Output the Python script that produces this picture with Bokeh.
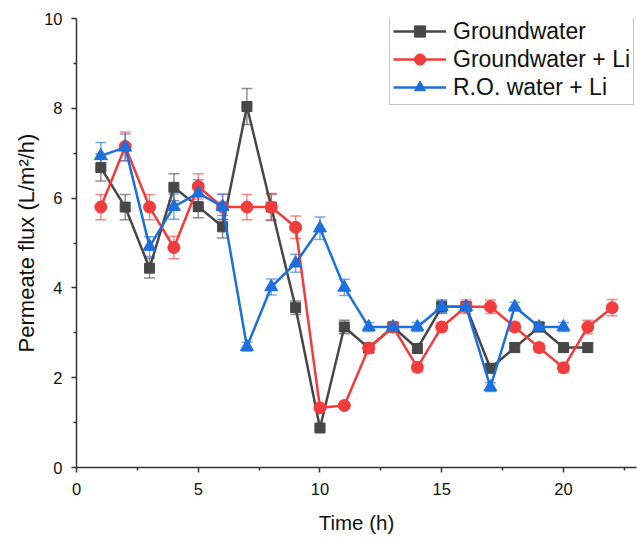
from bokeh.plotting import figure
from bokeh.models import ColumnDataSource, Whisker, TeeHead, Legend, LegendItem, Range1d, FixedTicker
from bokeh.embed import file_html
from bokeh.resources import INLINE

# ---- data ----
time_gw = list(range(1, 22))
flux_gw = [6.68, 5.80, 4.44, 6.24, 5.81, 5.36, 8.04, 5.80, 3.56, 0.88, 3.13,
           2.66, 3.13, 2.65, 3.58, 3.58, 2.21, 2.67, 3.13, 2.67, 2.67]
err_gw = [0.30, 0.28, 0.22, 0.30, 0.25, 0.25, 0.40, 0.30, 0.15, 0.05, 0.15,
          0.10, 0.10, 0.10, 0.15, 0.10, 0.10, 0.10, 0.10, 0.10, 0.10]

time_gwli = list(range(1, 23))
flux_gwli = [5.80, 7.15, 5.80, 4.90, 6.26, 5.80, 5.80, 5.80, 5.35, 1.33, 1.38,
             2.66, 3.13, 2.23, 3.13, 3.58, 3.58, 3.13, 2.67, 2.22, 3.13, 3.56]
err_gwli = [0.28, 0.32, 0.28, 0.25, 0.28, 0.28, 0.28, 0.28, 0.25, 0.05, 0.05,
            0.10, 0.10, 0.10, 0.10, 0.15, 0.15, 0.10, 0.10, 0.10, 0.15, 0.18]

time_ro = list(range(1, 21))
flux_ro = [6.94, 7.13, 4.92, 5.81, 6.11, 5.81, 2.69, 4.02, 4.55, 5.33, 4.01,
           3.13, 3.13, 3.13, 3.58, 3.58, 1.79, 3.58, 3.13, 3.13]
err_ro = [0.30, 0.30, 0.22, 0.28, 0.30, 0.28, 0.10, 0.18, 0.20, 0.25, 0.18,
          0.10, 0.10, 0.10, 0.12, 0.10, 0.10, 0.10, 0.10, 0.10]

series_names = ["Groundwater", "Groundwater + Li", "R.O. water + Li"]
x_ticks = [0, 5, 10, 15, 20]
y_ticks = [0, 2, 4, 6, 8, 10]

colors = ["#474747", "#f23c3c", "#1c6fdc"]
markers = ["square", "circle", "triangle"]
msizes = [10, 12, 13]

p = figure(width=637, height=540, output_backend="svg", toolbar_location=None,
           x_range=Range1d(0, 23), y_range=Range1d(0, 10),
           min_border_left=76, min_border_right=1, min_border_top=18,
           min_border_bottom=73)
p.outline_line_color = None
p.xgrid.visible = False
p.ygrid.visible = False
p.background_fill_color = "white"
p.border_fill_color = "white"

for ax, ticks in ((p.xaxis[0], x_ticks), (p.yaxis[0], y_ticks)):
    ax.ticker = FixedTicker(ticks=ticks,
                            minor_ticks=[t + (ticks[1] - ticks[0]) / 2 for t in ticks])
    ax.axis_line_color = "#333333"
    ax.axis_line_width = 1.5
    ax.major_tick_line_color = "#333333"
    ax.major_tick_line_width = 1.5
    ax.minor_tick_line_color = "#333333"
    ax.minor_tick_line_width = 1.5
    ax.major_tick_in = 0
    ax.major_tick_out = 5
    ax.minor_tick_in = 0
    ax.minor_tick_out = 3
    ax.major_label_text_font = "Liberation Sans"
    ax.major_label_text_font_size = "16.5px"
    ax.major_label_text_color = "#111111"
    ax.axis_label_text_font = "Liberation Sans"
    ax.axis_label_text_font_style = "normal"
    ax.axis_label_text_color = "#111111"

p.xaxis.axis_label = "Time (h)"
p.yaxis.axis_label = "Permeate flux (L/m²/h)"
p.xaxis.axis_label_text_font_size = "20.5px"
p.yaxis.axis_label_text_font_size = "22px"
p.xaxis.major_label_standoff = 10
p.yaxis.major_label_standoff = 9
p.xaxis.axis_label_standoff = 13
p.yaxis.axis_label_standoff = 2

items = []
for name, xs, ys, es, col, mk, ms in zip(
        series_names, [time_gw, time_gwli, time_ro], [flux_gw, flux_gwli, flux_ro],
        [err_gw, err_gwli, err_ro], colors, markers, msizes):
    src = ColumnDataSource(dict(x=xs, y=ys,
                                lo=[a - b for a, b in zip(ys, es)],
                                hi=[a + b for a, b in zip(ys, es)]))
    w = Whisker(source=src, base="x", lower="lo", upper="hi",
                line_color=col, line_alpha=0.6, line_width=1.5,
                upper_head=TeeHead(size=11, line_color=col, line_alpha=0.6, line_width=1.5),
                lower_head=TeeHead(size=11, line_color=col, line_alpha=0.6, line_width=1.5))
    p.add_layout(w)
    ln = p.line("x", "y", source=src, line_color=col, line_width=2.5)
    sc = p.scatter("x", "y", source=src, marker=mk, size=ms,
                   fill_color=col, line_color=col)
    items.append(LegendItem(label=name, renderers=[ln, sc]))

legend = Legend(items=items, location=(313, 362))
legend.label_text_font = "Liberation Sans"
legend.label_text_font_size = "23px"
legend.label_text_color = "#111111"
legend.glyph_width = 53
legend.glyph_height = 28
legend.label_height = 28
legend.label_standoff = 7
legend.spacing = 0
legend.padding = 3
legend.margin = 0
legend.border_line_color = "#8a8a8a"
legend.border_line_width = 1
legend.background_fill_color = "white"
p.add_layout(legend, "center")

open("out.html", "w").write(file_html(p, INLINE))
